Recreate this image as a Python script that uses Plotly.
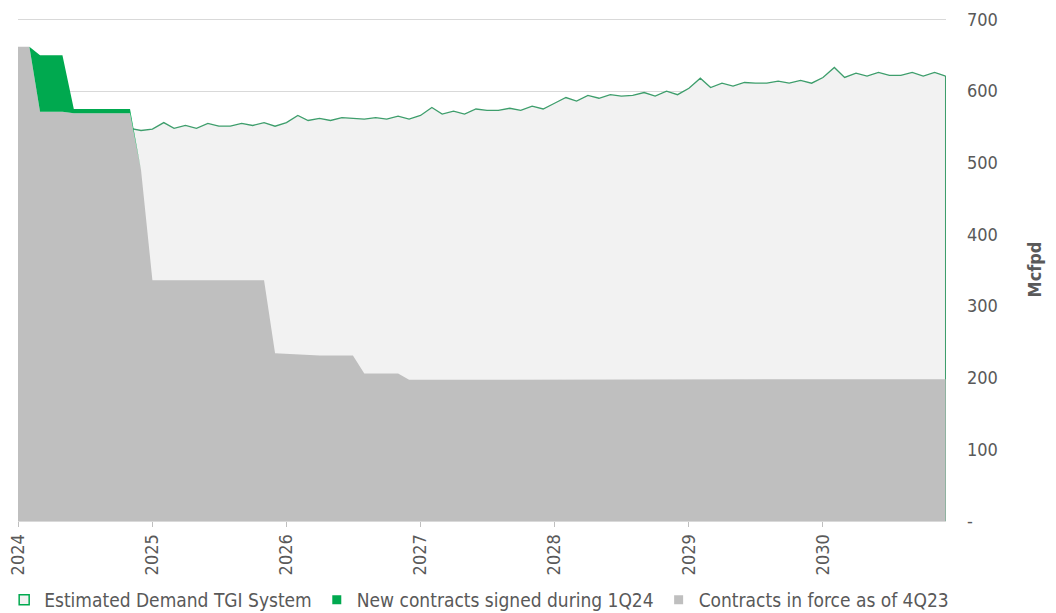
import plotly.graph_objects as go
import pandas as pd

# Monthly dates Jan 2024 .. Dec 2030
months = pd.date_range("2024-01-01", "2030-12-01", freq="MS")

# Contracts in force as of 4Q23 (Mcfpd)
contracts_4q23 = [
    662, 662, 571, 571, 571, 569, 569, 569, 569, 569, 569, 490,   # 2024
    336, 336, 336, 336, 336, 336, 336, 336, 336, 336, 336, 234,   # 2025
    233, 232, 232, 231, 231, 231, 231, 206, 206, 206, 206, 197,   # 2026
    197, 197, 197, 197, 197, 197, 197, 197, 197, 197, 197, 197,   # 2027
    197, 197, 197, 197, 197, 197, 197, 197, 197, 197, 197, 197,   # 2028
    197, 197, 197, 197, 197, 197, 197, 197, 197, 197, 197, 197,   # 2029
    198, 198, 198, 198, 198, 198, 198, 198, 198, 198, 198, 198,   # 2030
]

# New contracts signed during 1Q24 (stacked on top)
new_1q24 = [
    0, 0, 79, 79, 79, 6, 6, 6, 6, 6, 6, 0,
    0, 0, 0, 0, 0, 0, 0, 0, 0, 0, 0, 0,
    0, 0, 0, 0, 0, 0, 0, 0, 0, 0, 0, 0,
    0, 0, 0, 0, 0, 0, 0, 0, 0, 0, 0, 0,
    0, 0, 0, 0, 0, 0, 0, 0, 0, 0, 0, 0,
    0, 0, 0, 0, 0, 0, 0, 0, 0, 0, 0, 0,
    0, 0, 0, 0, 0, 0, 0, 0, 0, 0, 0, 0,
]

# Estimated Demand TGI System
demand = [
    560, 556, 553, 550, 548, 551, 549, 550, 552, 549, 548, 545,   # 2024
    547, 556, 548, 552, 548, 555, 551, 551, 555, 552, 556, 551,   # 2025
    556, 566, 559, 562, 559, 563, 562, 561, 563, 561, 565, 561,   # 2026
    566, 577, 568, 572, 568, 575, 573, 573, 576, 573, 579, 575,   # 2027
    583, 591, 586, 594, 590, 595, 593, 594, 598, 593, 600, 595,   # 2028
    604, 618, 605, 611, 607, 612, 611, 611, 614, 611, 615, 611,   # 2029
    619, 633, 619, 625, 621, 626, 622, 622, 626, 621, 626, 621,   # 2030
]

total_contracts = [a + b for a, b in zip(contracts_4q23, new_1q24)]

y_tickvals = [0, 100, 200, 300, 400, 500, 600, 700]
y_ticktext = ["-", "100", "200", "300", "400", "500", "600", "700"]

names = ["Estimated Demand TGI System",
         "New contracts signed during 1Q24",
         "Contracts in force as of 4Q23"]

GREEN = "#00A94F"
LINE_GREEN = "#3E9E6C"
GREY = "#BFBFBF"
LIGHT = "#F2F2F2"
TXT = "#595959"
FONT = "DejaVu Sans Condensed, DejaVu Sans, sans-serif"

fig = go.Figure()

# Demand area (behind)
fig.add_trace(go.Scatter(
    x=months, y=demand, mode="lines", fill="tozeroy",
    fillcolor=LIGHT, line=dict(color=LINE_GREEN, width=1.3),
    showlegend=False, hoverinfo="skip"))
# right-hand edge of the demand area
fig.add_trace(go.Scatter(
    x=[months[-1], months[-1]], y=[demand[-1], 0], mode="lines",
    line=dict(color=LINE_GREEN, width=1.3), showlegend=False, hoverinfo="skip"))

# Contracts in force as of 4Q23
fig.add_trace(go.Scatter(
    x=months, y=contracts_4q23, mode="lines", fill="tozeroy",
    fillcolor=GREY, line=dict(color=GREY, width=0),
    showlegend=False, hoverinfo="skip"))
# New contracts stacked on top
fig.add_trace(go.Scatter(
    x=months, y=total_contracts, mode="lines", fill="tonexty",
    fillcolor=GREEN, line=dict(color=GREEN, width=0),
    showlegend=False, hoverinfo="skip"))

# Legend entries
fig.add_trace(go.Scatter(x=[None], y=[None], mode="markers", name=names[0],
                         marker=dict(symbol="square", size=10, color=LIGHT,
                                     line=dict(color=GREEN, width=1.5))))
fig.add_trace(go.Scatter(x=[None], y=[None], mode="markers", name=names[1],
                         marker=dict(symbol="square", size=9, color=GREEN,
                                     line=dict(width=0))))
fig.add_trace(go.Scatter(x=[None], y=[None], mode="markers", name=names[2],
                         marker=dict(symbol="square", size=9, color=GREY,
                                     line=dict(width=0))))

fig.update_layout(
    width=1056, height=613,
    margin=dict(l=18, r=110, t=18, b=92, autoexpand=False),
    paper_bgcolor="white", plot_bgcolor="white",
    font=dict(family=FONT, size=18, color=TXT),
    showlegend=True,
    legend=dict(orientation="h", traceorder="normal",
                x=-0.0149, xanchor="left", y=-0.157,
                yanchor="middle", font=dict(size=19, color=TXT),
                itemwidth=30, tracegroupgap=0, bgcolor="rgba(0,0,0,0)"),
    xaxis=dict(
        type="date", range=[months[0], pd.Timestamp("2030-12-02")],
        tickmode="linear", tick0="2024-01-01", dtick="M12", tickformat="%Y",
        tickangle=-90, ticks="outside", ticklen=5, tickcolor="#BFBFBF",
        showline=True, linecolor="#D9D9D9", linewidth=1,
        showgrid=False, zeroline=False, automargin=False,
        ticklabeloverflow="allow",
        tickfont=dict(size=18, color=TXT), ticklabelstandoff=0),
    yaxis=dict(
        side="right", range=[0, 702], tickvals=y_tickvals, ticktext=y_ticktext,
        showgrid=True, gridcolor="#D9D9D9", gridwidth=1, zeroline=False,
        ticks="", ticklabelstandoff=20, showline=False, automargin=False,
        tickfont=dict(size=18, color=TXT),
        title=dict(text="<b>Mcfpd</b>", font=dict(size=18, color=TXT), standoff=31)),
)

# remove the browser's default 8px body margin so the figure fills the window
fig.write_html("out.html", config={"displayModeBar": False},
               post_script="document.body.style.margin='0';")
